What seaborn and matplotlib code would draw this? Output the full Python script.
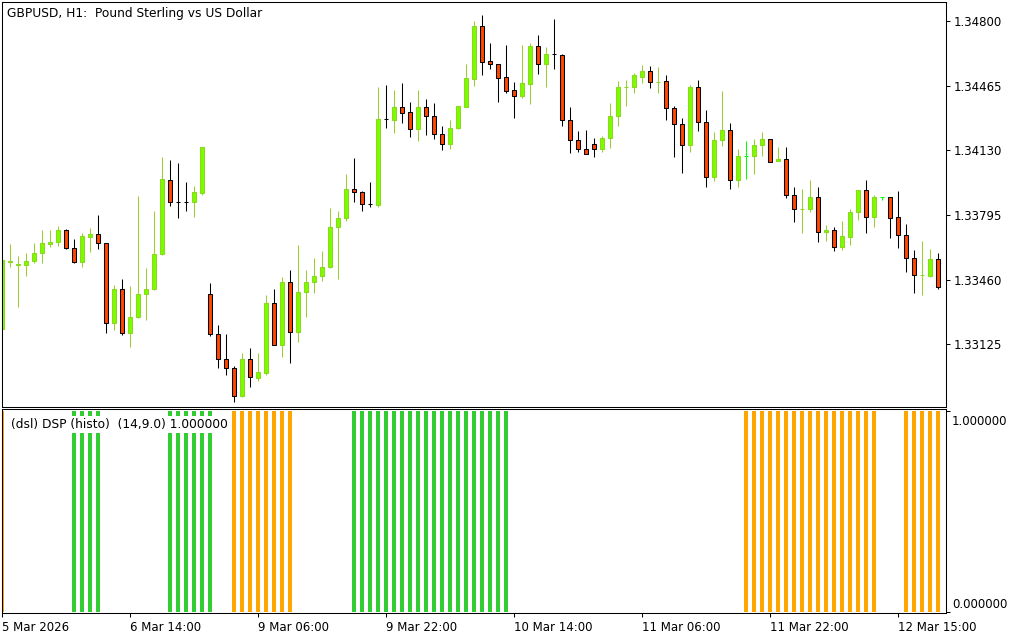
"""
GBPUSD H1 candles with the DSP histogram pane below (MetaTrader look).
"""

import numpy as np
import pandas as pd
import seaborn as sns
import matplotlib.pyplot as plt

sns.set_style("white")
plt.rcParams["font.family"] = ["DejaVu Sans"]
plt.rcParams["text.color"] = "black"

# candle data, one hour per bar
opens = [
    1.33204, 1.33551, 1.33536, 1.33536, 1.33557, 1.33598, 1.33645, 1.33655, 1.33717, 1.33624,
    1.33551, 1.33681, 1.33696, 1.33650, 1.33235, 1.33412, 1.33184, 1.33266, 1.33386, 1.33412,
    1.33593, 1.33976, 1.33862, 1.33862, 1.33862, 1.33909, 1.33386, 1.33178, 1.33049, 1.33002,
    1.32857, 1.33049, 1.32950, 1.32976, 1.33339, 1.33121, 1.33448, 1.33189, 1.33396, 1.33448,
    1.33479, 1.33525, 1.33733, 1.33779, 1.33930, 1.33914, 1.33852, 1.33847, 1.34292, 1.34287,
    1.34354, 1.34329, 1.34240, 1.34354, 1.34308, 1.34215, 1.34163, 1.34246, 1.34354, 1.34500,
    1.34774, 1.34593, 1.34577, 1.34510, 1.34443, 1.34411, 1.34474, 1.34671, 1.34577, 1.34629,
    1.34624, 1.34287, 1.34183, 1.34137, 1.34163, 1.34137, 1.34194, 1.34308, 1.34456, 1.34458,
    1.34510, 1.34541, 1.34482, 1.34489, 1.34349, 1.34266, 1.34158, 1.34458, 1.34277, 1.33992,
    1.34183, 1.34235, 1.33976, 1.34101, 1.34101, 1.34158, 1.34189, 1.34075, 1.34085, 1.33899,
    1.33824, 1.33826, 1.33888, 1.33707, 1.33717, 1.33629, 1.33681, 1.33810, 1.33924, 1.33785,
    1.33888, 1.33888, 1.33785, 1.33691, 1.33572, 1.33482, 1.33479, 1.33567,
]
highs = [
    1.33572, 1.33645, 1.33582, 1.33598, 1.33650, 1.33717, 1.33717, 1.33738, 1.33722, 1.33671,
    1.33702, 1.33728, 1.33795, 1.33650, 1.33432, 1.33463, 1.33427, 1.33893, 1.33520, 1.33816,
    1.34095, 1.34080, 1.34064, 1.33966, 1.33945, 1.34147, 1.33443, 1.33225, 1.33178, 1.33013,
    1.33080, 1.33106, 1.33080, 1.33380, 1.33412, 1.33474, 1.33510, 1.33639, 1.33510, 1.33572,
    1.33608, 1.33831, 1.33816, 1.34007, 1.34090, 1.33919, 1.33966, 1.34458, 1.34468, 1.34443,
    1.34479, 1.34380, 1.34443, 1.34396, 1.34375, 1.34256, 1.34287, 1.34360, 1.34577, 1.34800,
    1.34831, 1.34686, 1.34577, 1.34676, 1.34484, 1.34676, 1.34686, 1.34727, 1.34665, 1.34810,
    1.34629, 1.34354, 1.34230, 1.34235, 1.34194, 1.34204, 1.34375, 1.34489, 1.34494, 1.34531,
    1.34572, 1.34567, 1.34562, 1.34520, 1.34360, 1.34297, 1.34468, 1.34494, 1.34339, 1.34225,
    1.34437, 1.34272, 1.34137, 1.34178, 1.34189, 1.34225, 1.34189, 1.34147, 1.34147, 1.33940,
    1.33930, 1.33976, 1.33940, 1.33743, 1.33733, 1.33764, 1.33826, 1.33924, 1.33976, 1.33899,
    1.33888, 1.33888, 1.33919, 1.33748, 1.33614, 1.33660, 1.33619, 1.33598,
]
lows = [
    1.33194, 1.33525, 1.33318, 1.33479, 1.33546, 1.33546, 1.33629, 1.33634, 1.33619, 1.33546,
    1.33525, 1.33603, 1.33619, 1.33184, 1.33199, 1.33173, 1.33111, 1.33261, 1.33251, 1.33406,
    1.33588, 1.33842, 1.33779, 1.33816, 1.33785, 1.33899, 1.33168, 1.33002, 1.32966, 1.32826,
    1.32852, 1.32904, 1.32935, 1.32966, 1.33121, 1.33059, 1.33028, 1.33137, 1.33266, 1.33391,
    1.33453, 1.33520, 1.33463, 1.33764, 1.33862, 1.33816, 1.33836, 1.33836, 1.34246, 1.34220,
    1.34272, 1.34199, 1.34178, 1.34209, 1.34189, 1.34132, 1.34137, 1.34240, 1.34354, 1.34463,
    1.34520, 1.34551, 1.34380, 1.34427, 1.34297, 1.34401, 1.34370, 1.34525, 1.34458, 1.34551,
    1.34256, 1.34116, 1.34121, 1.34111, 1.34095, 1.34121, 1.34142, 1.34256, 1.34360, 1.34427,
    1.34479, 1.34453, 1.34427, 1.34287, 1.34095, 1.34013, 1.34121, 1.34230, 1.33940, 1.33971,
    1.34152, 1.33930, 1.33940, 1.33981, 1.34007, 1.34101, 1.34070, 1.34075, 1.33883, 1.33759,
    1.33702, 1.33810, 1.33655, 1.33660, 1.33608, 1.33614, 1.33639, 1.33769, 1.33702, 1.33733,
    1.33873, 1.33676, 1.33624, 1.33500, 1.33391, 1.33380, 1.33474, 1.33412,
]
closes = [
    1.33562, 1.33557, 1.33540, 1.33557, 1.33598, 1.33650, 1.33655, 1.33717, 1.33624, 1.33551,
    1.33686, 1.33696, 1.33650, 1.33235, 1.33412, 1.33184, 1.33266, 1.33386, 1.33412, 1.33593,
    1.33981, 1.33862, 1.33860, 1.33860, 1.33914, 1.34147, 1.33178, 1.33049, 1.33002, 1.32857,
    1.33049, 1.32956, 1.32982, 1.33339, 1.33121, 1.33448, 1.33189, 1.33396, 1.33448, 1.33479,
    1.33525, 1.33733, 1.33779, 1.33930, 1.33914, 1.33852, 1.33850, 1.34292, 1.34290, 1.34354,
    1.34323, 1.34240, 1.34354, 1.34308, 1.34215, 1.34163, 1.34246, 1.34360, 1.34505, 1.34774,
    1.34588, 1.34577, 1.34505, 1.34437, 1.34411, 1.34479, 1.34671, 1.34577, 1.34629, 1.34627,
    1.34287, 1.34183, 1.34137, 1.34111, 1.34137, 1.34194, 1.34308, 1.34458, 1.34458, 1.34520,
    1.34541, 1.34484, 1.34484, 1.34349, 1.34266, 1.34158, 1.34458, 1.34277, 1.33992, 1.34183,
    1.34235, 1.33976, 1.34101, 1.34101, 1.34158, 1.34189, 1.34070, 1.34085, 1.33899, 1.33826,
    1.33826, 1.33888, 1.33707, 1.33717, 1.33629, 1.33686, 1.33810, 1.33924, 1.33785, 1.33888,
    1.33888, 1.33779, 1.33691, 1.33572, 1.33484, 1.33484, 1.33567, 1.33422,
]

# DSP histogram: 1 = green (up), -1 = orange (down), 0 = nothing
signal = [
    -1, 0, 0, 0, 0, 0, 0, 0, 0, 1,
    1, 1, 1, 0, 0, 0, 0, 0, 0, 0,
    0, 1, 1, 1, 1, 1, 1, 0, 0, -1,
    -1, -1, -1, -1, -1, -1, -1, 0, 0, 0,
    0, 0, 0, 0, 1, 1, 1, 1, 1, 1,
    1, 1, 1, 1, 1, 1, 1, 1, 1, 1,
    1, 1, 1, 1, 0, 0, 0, 0, 0, 0,
    0, 0, 0, 0, 0, 0, 0, 0, 0, 0,
    0, 0, 0, 0, 0, 0, 0, 0, 0, 0,
    0, 0, 0, -1, -1, -1, -1, -1, -1, -1,
    -1, -1, -1, -1, -1, -1, -1, -1, -1, -1,
    0, 0, 0, -1, -1, -1, -1, -1,
]

price_ticks = [1.34800, 1.34465, 1.34130, 1.33795, 1.33460, 1.33125]
time_ticks = [0, 16, 32, 48, 64, 80, 96, 112]
time_labels = ["5 Mar 2026", "6 Mar 14:00", "9 Mar 06:00", "9 Mar 22:00",
               "10 Mar 14:00", "11 Mar 06:00", "11 Mar 22:00", "12 Mar 15:00"]

o = np.array(opens)
h = np.array(highs)
l = np.array(lows)
c = np.array(closes)
bars = np.arange(len(o))

fig = plt.figure(figsize=(10.24, 6.4), dpi=100)
ax = fig.add_axes([2 / 1024, 233 / 640, 944 / 1024, 405 / 640])
ax2 = fig.add_axes([2 / 1024, 27 / 640, 944 / 1024, 204 / 640])

# candles
up = c > o
down = c < o
wick_col = np.where(up, "#9ACD32", np.where(down, "black", "#00FF00"))
face_col = np.where(up, "#7CFC00", np.where(down, "#FF4500", "#00FF00"))
edge_col = np.where(up, "#8CD81E", np.where(down, "black", "#00FF00"))

ax.vlines(bars, l, h, colors=wick_col, linewidth=0.75, zorder=1)
ax.bar(bars, c - o, bottom=o, width=0.52, color=face_col,
       edgecolor=edge_col, linewidth=0.75, zorder=2)

ax.set_xlim(0, 118)
ax.set_ylim(1.32800, 1.34898)
ax.yaxis.tick_right()
ax.set_yticks(price_ticks)
ax.set_yticklabels([f"{p:.5f}" for p in price_ticks])
ax.tick_params(axis="y", right=True, left=False, direction="out", length=3,
               width=0.75, pad=2.5, labelsize=8.5, colors="black")
ax.tick_params(axis="x", bottom=False, labelbottom=False)
ax.annotate("GBPUSD, H1:  Pound Sterling vs US Dollar", xy=(0, 1),
            xycoords="axes fraction", xytext=(5, -5), textcoords="offset pixels",
            ha="left", va="top", fontsize=8.8, color="black")

# histogram pane
df = pd.DataFrame({"bar": bars, "signal": signal})
df = df[df["signal"] != 0].copy()
df["value"] = 1.0
df["dir"] = np.where(df["signal"] > 0, "up", "down")

sns.barplot(data=df, x="bar", y="value", hue="dir",
            palette={"up": "#32CD32", "down": "#FFA500"},
            native_scale=True, dodge=False, width=0.48, saturation=1,
            errorbar=None, legend=False, linewidth=0, ax=ax2)

ax2.set_xlim(0, 118)
ax2.set_ylim(-0.005, 1.01)
ax2.set_xlabel("")
ax2.set_ylabel("")
ax2.yaxis.tick_right()
ax2.set_yticks([0, 1])
ax2.set_yticklabels(["", ""])
ax2.tick_params(axis="y", right=True, left=False, direction="out", length=3,
                width=0.75, colors="black")
ax2.annotate("1.000000", xy=(1, 1), xycoords=("axes fraction", "data"),
             xytext=(6, -4), textcoords="offset pixels", ha="left", va="top",
             fontsize=8.5, color="black")
ax2.annotate("0.000000", xy=(1, 0), xycoords=("axes fraction", "data"),
             xytext=(6, 1), textcoords="offset pixels", ha="left", va="bottom",
             fontsize=8.5, color="black")

ax2.set_xticks(time_ticks)
ax2.set_xticklabels(time_labels, ha="left")
ax2.tick_params(axis="x", bottom=True, direction="out", length=3, width=0.75,
                pad=3, labelsize=8.5, colors="black")
ax2.annotate("(dsl) DSP (histo)  (14,9.0) 1.000000", xy=(0, 1),
             xycoords="axes fraction", xytext=(9, -9), textcoords="offset pixels",
             ha="left", va="top", fontsize=8.8, color="black",
             bbox=dict(facecolor="white", edgecolor="none", pad=1.5))

for a in (ax, ax2):
    for s in a.spines.values():
        s.set_color("black")
        s.set_linewidth(0.75)
        s.set_visible(True)

plt.savefig("out.png", dpi=100)
